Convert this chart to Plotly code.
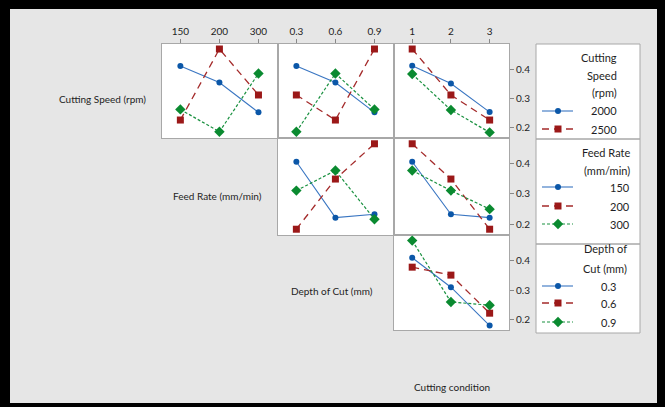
import plotly.graph_objects as go

W, H = 665, 407

# ---------------- data ----------------
feed_levels = ["150", "200", "300"]
depth_levels = ["0.3", "0.6", "0.9"]
cond_levels = ["1", "2", "3"]
y_ticks = [0.2, 0.3, 0.4]

# Row 1: Cutting Speed
speed_feed_blue = [0.410, 0.354, 0.253]
speed_feed_red = [0.227, 0.468, 0.312]
speed_feed_green = [0.263, 0.187, 0.385]
speed_depth_blue = [0.410, 0.354, 0.253]
speed_depth_red = [0.312, 0.227, 0.468]
speed_depth_green = [0.187, 0.385, 0.263]
speed_cond_blue = [0.411, 0.351, 0.254]
speed_cond_red = [0.468, 0.312, 0.227]
speed_cond_green = [0.383, 0.261, 0.185]
# Row 2: Feed Rate
feed_depth_blue = [0.405, 0.221, 0.232]
feed_depth_red = [0.183, 0.348, 0.464]
feed_depth_green = [0.310, 0.376, 0.216]
feed_cond_blue = [0.405, 0.232, 0.221]
feed_cond_red = [0.464, 0.348, 0.183]
feed_cond_green = [0.376, 0.310, 0.249]
# Row 3: Depth of Cut
depth_cond_blue = [0.411, 0.311, 0.181]
depth_cond_red = [0.379, 0.352, 0.223]
depth_cond_green = [0.469, 0.261, 0.250]

row_labels = ["Cutting Speed (rpm)", "Feed Rate (mm/min)", "Depth of Cut (mm)"]
x_title = "Cutting condition"
legend_headers = [["Cutting", "Speed", "(rpm)"], ["Feed Rate", "(mm/min)"], ["Depth of", "Cut (mm)"]]
legend_speed = ["2000", "2500"]
legend_feed = ["150", "200", "300"]
legend_depth = ["0.3", "0.6", "0.9"]

# ---------------- styles ----------------
BLUE_L, BLUE_M = "#3a76c2", "#0b57a8"
RED_L, RED_M = "#a42a2a", "#9b1818"
GREEN_L, GREEN_M = "#1a9140", "#0a8a30"
FONT = "Lato"
TXT = "#1e1e24"

styles = [
    dict(line=dict(color=BLUE_L, width=1.1), marker=dict(color=BLUE_M, size=6, symbol="circle")),
    dict(line=dict(color=RED_L, width=1.3, dash="7px,5px"), marker=dict(color=RED_M, size=7, symbol="square")),
    dict(line=dict(color=GREEN_L, width=1.2, dash="3px,2px"), marker=dict(color=GREEN_M, size=8, symbol="diamond")),
]

def px(x):
    return x / W

def py(y):
    return 1 - y / H

col_px = [(162, 278), (278, 394), (394, 509)]
row_px = [(44, 138), (138, 235), (235, 330)]
row_ranges = [[0.166, 0.485], [0.164, 0.483], [0.166, 0.488]]
col_levels = [feed_levels, depth_levels, cond_levels]

panels = [
    (0, 0, [speed_feed_blue, speed_feed_red, speed_feed_green]),
    (0, 1, [speed_depth_blue, speed_depth_red, speed_depth_green]),
    (0, 2, [speed_cond_blue, speed_cond_red, speed_cond_green]),
    (1, 1, [feed_depth_blue, feed_depth_red, feed_depth_green]),
    (1, 2, [feed_cond_blue, feed_cond_red, feed_cond_green]),
    (2, 2, [depth_cond_blue, depth_cond_red, depth_cond_green]),
]

fig = go.Figure()
layout = {}
for k, (r, c, series) in enumerate(panels, start=1):
    xa = "xaxis" if k == 1 else f"xaxis{k}"
    ya = "yaxis" if k == 1 else f"yaxis{k}"
    xr = "x" if k == 1 else f"x{k}"
    yr = "y" if k == 1 else f"y{k}"
    levels = col_levels[c]
    for s, vals in enumerate(series):
        fig.add_trace(go.Scatter(
            x=list(range(len(levels))), y=vals, mode="lines+markers",
            xaxis=xr, yaxis=yr, showlegend=False, **styles[s]))
    layout[xa] = dict(
        domain=[px(col_px[c][0]), px(col_px[c][1])], anchor=yr,
        range=[-0.47, 2.5], tickmode="array",
        tickvals=list(range(len(levels))), ticktext=levels,
        showticklabels=(r == 0), ticks="outside" if r == 0 else "",
        side="top", ticklen=4, tickcolor="#888888",
        showline=True, mirror=True, linecolor="#a8a8a8", linewidth=1,
        showgrid=False, zeroline=False,
        tickfont=dict(family=FONT, size=10, color=TXT), fixedrange=True)
    layout[ya] = dict(
        domain=[py(row_px[r][1]), py(row_px[r][0])], anchor=xr,
        range=row_ranges[r], tickmode="array", tickvals=y_ticks,
        ticktext=[f"{v:.1f}" for v in y_ticks],
        showticklabels=(c == 2), ticks="outside" if c == 2 else "",
        side="right", ticklen=4, tickcolor="#888888",
        showline=True, mirror=True, linecolor="#a8a8a8", linewidth=1,
        showgrid=False, zeroline=False,
        tickfont=dict(family=FONT, size=10, color=TXT), fixedrange=True)

# legend overlay axis (pixel coordinates)
LX0, LX1, LY0, LY1 = 536, 640, 44, 333
layout["xaxis7"] = dict(domain=[px(LX0), px(LX1)], range=[LX0, LX1], visible=False,
                        anchor="y7", fixedrange=True)
layout["yaxis7"] = dict(domain=[py(LY1), py(LY0)], range=[LY1, LY0], visible=False,
                        anchor="x7", fixedrange=True)

legend_groups = [
    (legend_speed, [111, 129], 619, 619, [57, 75, 93]),
    (legend_feed, [187, 206, 224], 632, 632, [152, 170]),
    (legend_depth, [286, 303, 322], 618, 629, [248, 268]),
]
box_edges = [(44, 139), (139, 244), (244, 333)]
annotations = []
shapes = []
for g, (labels, ys, rx, hx, hys) in enumerate(legend_groups):
    for h, txt in enumerate(legend_headers[g]):
        annotations.append(dict(x=px(hx), y=py(hys[h]),
                                xref="paper", yref="paper", text=txt, showarrow=False,
                                xanchor="right", yanchor="middle",
                                font=dict(family=FONT, size=11, color=TXT)))
    for i, lab in enumerate(labels):
        st = styles[i]
        fig.add_trace(go.Scatter(x=[542, 573], y=[ys[i], ys[i]], mode="lines",
                                 line=st["line"], xaxis="x7", yaxis="y7",
                                 showlegend=False, hoverinfo="skip"))
        fig.add_trace(go.Scatter(x=[558], y=[ys[i]], mode="markers",
                                 marker=st["marker"], xaxis="x7", yaxis="y7",
                                 showlegend=False, hoverinfo="skip"))
        annotations.append(dict(x=px(rx), y=py(ys[i]), xref="paper", yref="paper",
                                text=lab, showarrow=False, xanchor="right", yanchor="middle",
                                font=dict(family=FONT, size=11, color=TXT)))
    b0, b1 = box_edges[g]
    shapes.append(dict(type="rect", xref="paper", yref="paper",
                       x0=px(LX0), x1=px(LX1), y0=py(b1), y1=py(b0),
                       line=dict(color="#a8a8a8", width=1), layer="above"))

# row labels and bottom title
label_pos = [(102, 99), (217, 196), (332, 291)]
for txt, (x, y) in zip(row_labels, label_pos):
    annotations.append(dict(x=px(x), y=py(y), xref="paper", yref="paper", text=txt,
                            showarrow=False, xanchor="center", yanchor="middle",
                            font=dict(family=FONT, size=10, color=TXT)))
annotations.append(dict(x=px(452), y=py(387), xref="paper", yref="paper", text=x_title,
                        showarrow=False, xanchor="center", yanchor="middle",
                        font=dict(family=FONT, size=10, color=TXT)))

# black frame
frame = [(0, 0, W, 9), (0, 0, 10, H), (657, 0, W, H), (0, 403, W, H)]
for (x0, y0, x1, y1) in frame:
    shapes.append(dict(type="rect", xref="paper", yref="paper",
                       x0=px(x0), x1=px(x1), y0=py(y1), y1=py(y0),
                       fillcolor="#000000", line=dict(width=0), layer="above"))

fig.update_layout(
    width=W, height=H, margin=dict(l=0, r=0, t=0, b=0),
    paper_bgcolor="#e6e6e6", plot_bgcolor="#ffffff",
    showlegend=False, annotations=annotations, shapes=shapes, **layout)

frame_js = (
    "document.body.style.margin='0';"
    "document.body.style.background='#000';"
    "var f=document.createElement('div');"
    "f.style.cssText='position:fixed;left:0;top:0;width:665px;height:407px;"
    "box-sizing:border-box;border-style:solid;border-color:#000;"
    "border-width:9px 8px 4px 10px;pointer-events:none;z-index:1000;';"
    "document.body.appendChild(f);"
)
fig.write_html("out.html", config={"displayModeBar": False}, post_script=frame_js)
